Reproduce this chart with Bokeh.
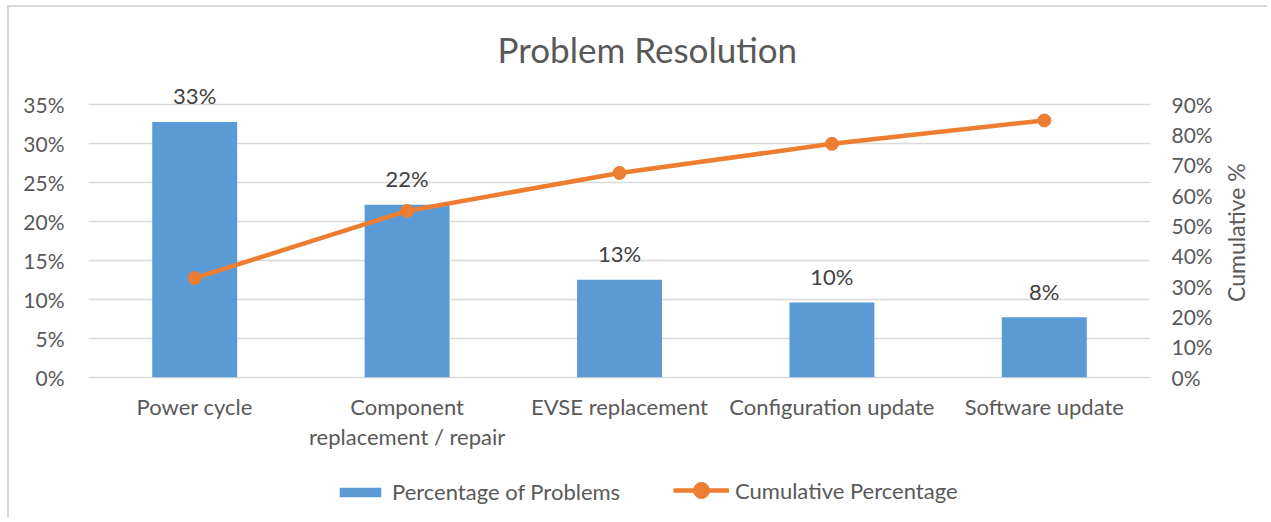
import math
from bokeh.plotting import figure
from bokeh.models import (Range1d, LinearAxis, FixedTicker, PrintfTickFormatter,
                          LabelSet, ColumnDataSource, Legend, LegendItem, Title)
from bokeh.core.properties import value
from bokeh.embed import file_html
from bokeh.resources import INLINE

categories = ["Power cycle", "Component replacement / repair", "EVSE replacement",
              "Configuration update", "Software update"]
category_text = ["Power cycle", "Component\nreplacement / repair", "EVSE replacement",
                 "Configuration update", "Software update"]
pct_problems = [32.7, 22.1, 12.5, 9.6, 7.7]
cumulative = [32.7, 54.8, 67.3, 76.9, 84.6]
bar_labels = ["33%", "22%", "13%", "10%", "8%"]
left_ticks = [0, 5, 10, 15, 20, 25, 30, 35]
right_ticks = [0, 10, 20, 30, 40, 50, 60, 70, 80, 90]

FONT = "Lato"
TXT = "#595959"
GRID = "#D9D9D9"
BLUE = "#5B9BD5"
ORANGE = "#ED7D31"

# visible range: 0..35 % between gridlines; extra room above/below for labels & legend
Y_LO, Y_HI = -18.2, 37.5
R_SCALE = 90 / 35

src = ColumnDataSource(dict(cat=categories, pct=pct_problems, cum=cumulative,
                            lab=bar_labels, ctext=category_text,
                            zero=[0] * len(categories)))

p = figure(x_range=categories, y_range=Range1d(Y_LO, Y_HI), width=1260, height=512,
           output_backend="svg", toolbar_location=None,
           min_border_left=79, min_border_right=119, min_border_top=77, min_border_bottom=0)
p.outline_line_color = None
p.background_fill_color = "white"
p.border_fill_color = "white"
p.styles = {"margin-left": "7px", "margin-top": "5px",
            "border-top": "2px solid #D9D9D9", "border-left": "2px solid #D9D9D9"}

p.extra_y_ranges = {"cum": Range1d(Y_LO * R_SCALE, Y_HI * R_SCALE)}

bars = p.vbar(x="cat", top="pct", width=0.4, source=src, color=BLUE, line_color=None)
line = p.line(x="cat", y="cum", source=src, y_range_name="cum", color=ORANGE, line_width=4.5)
pts = p.scatter(x="cat", y="cum", source=src, y_range_name="cum", size=13,
                fill_color=ORANGE, line_color=ORANGE)

labels = LabelSet(x="cat", y="pct", text="lab", source=src, y_offset=26,
                  text_align="center", text_baseline="middle",
                  text_font=value(FONT), text_font_size="22px", text_color="#404040")
p.add_layout(labels)

# category labels under the baseline
p.text(x="cat", y="zero", text="ctext", source=src, y_offset=16,
       text_align="center", text_baseline="top", text_line_height=1.1,
       text_font=value(FONT), text_font_size="22px", text_color=TXT)

# title
p.title = Title(text="Problem Resolution", align="left", offset=409, standoff=29,
                text_font=FONT, text_font_size="35px", text_font_style="normal",
                text_color=TXT)

p.xaxis.visible = False

# left axis
ax = p.yaxis[0]
ax.ticker = FixedTicker(ticks=left_ticks)
ax.formatter = PrintfTickFormatter(format="%d%%")
ax.axis_line_color = None
ax.major_tick_line_color = None
ax.minor_tick_line_color = None
ax.major_label_text_font = FONT
ax.major_label_text_font_size = "21px"
ax.major_label_text_color = TXT
ax.major_label_standoff = 18

# right axis
rax = LinearAxis(y_range_name="cum", ticker=FixedTicker(ticks=right_ticks),
                 formatter=PrintfTickFormatter(format="%d%%"))
rax.axis_line_color = None
rax.major_tick_line_color = None
rax.minor_tick_line_color = None
rax.major_label_text_font = FONT
rax.major_label_text_font_size = "21px"
rax.major_label_text_color = TXT
rax.major_label_standoff = 15
rax.axis_label = "Cumulative %"
rax.axis_label_text_font = FONT
rax.axis_label_text_font_size = "23px"
rax.axis_label_text_font_style = "normal"
rax.axis_label_text_color = TXT
rax.axis_label_standoff = 20
rax.axis_label_orientation = math.pi / 2
p.add_layout(rax, "right")

p.xgrid.grid_line_color = None
p.ygrid.grid_line_color = GRID
p.ygrid.grid_line_width = 1.5

legend_style = dict(orientation="horizontal", padding=0, margin=0,
                    label_text_font=FONT, label_text_font_size="22px",
                    label_text_color=TXT, label_standoff=6,
                    border_line_color=None, background_fill_alpha=0)
legend_bar = Legend(items=[LegendItem(label="Percentage of Problems", renderers=[bars])],
                    location=(246, 14), glyph_width=52, glyph_height=12, **legend_style)
legend_line = Legend(items=[LegendItem(label="Cumulative Percentage", renderers=[line, pts])],
                     location=(585, 9), glyph_width=56, glyph_height=40, **legend_style)
p.add_layout(legend_bar, "center")
p.add_layout(legend_line, "center")

open("out.html", "w").write(file_html(p, INLINE))
